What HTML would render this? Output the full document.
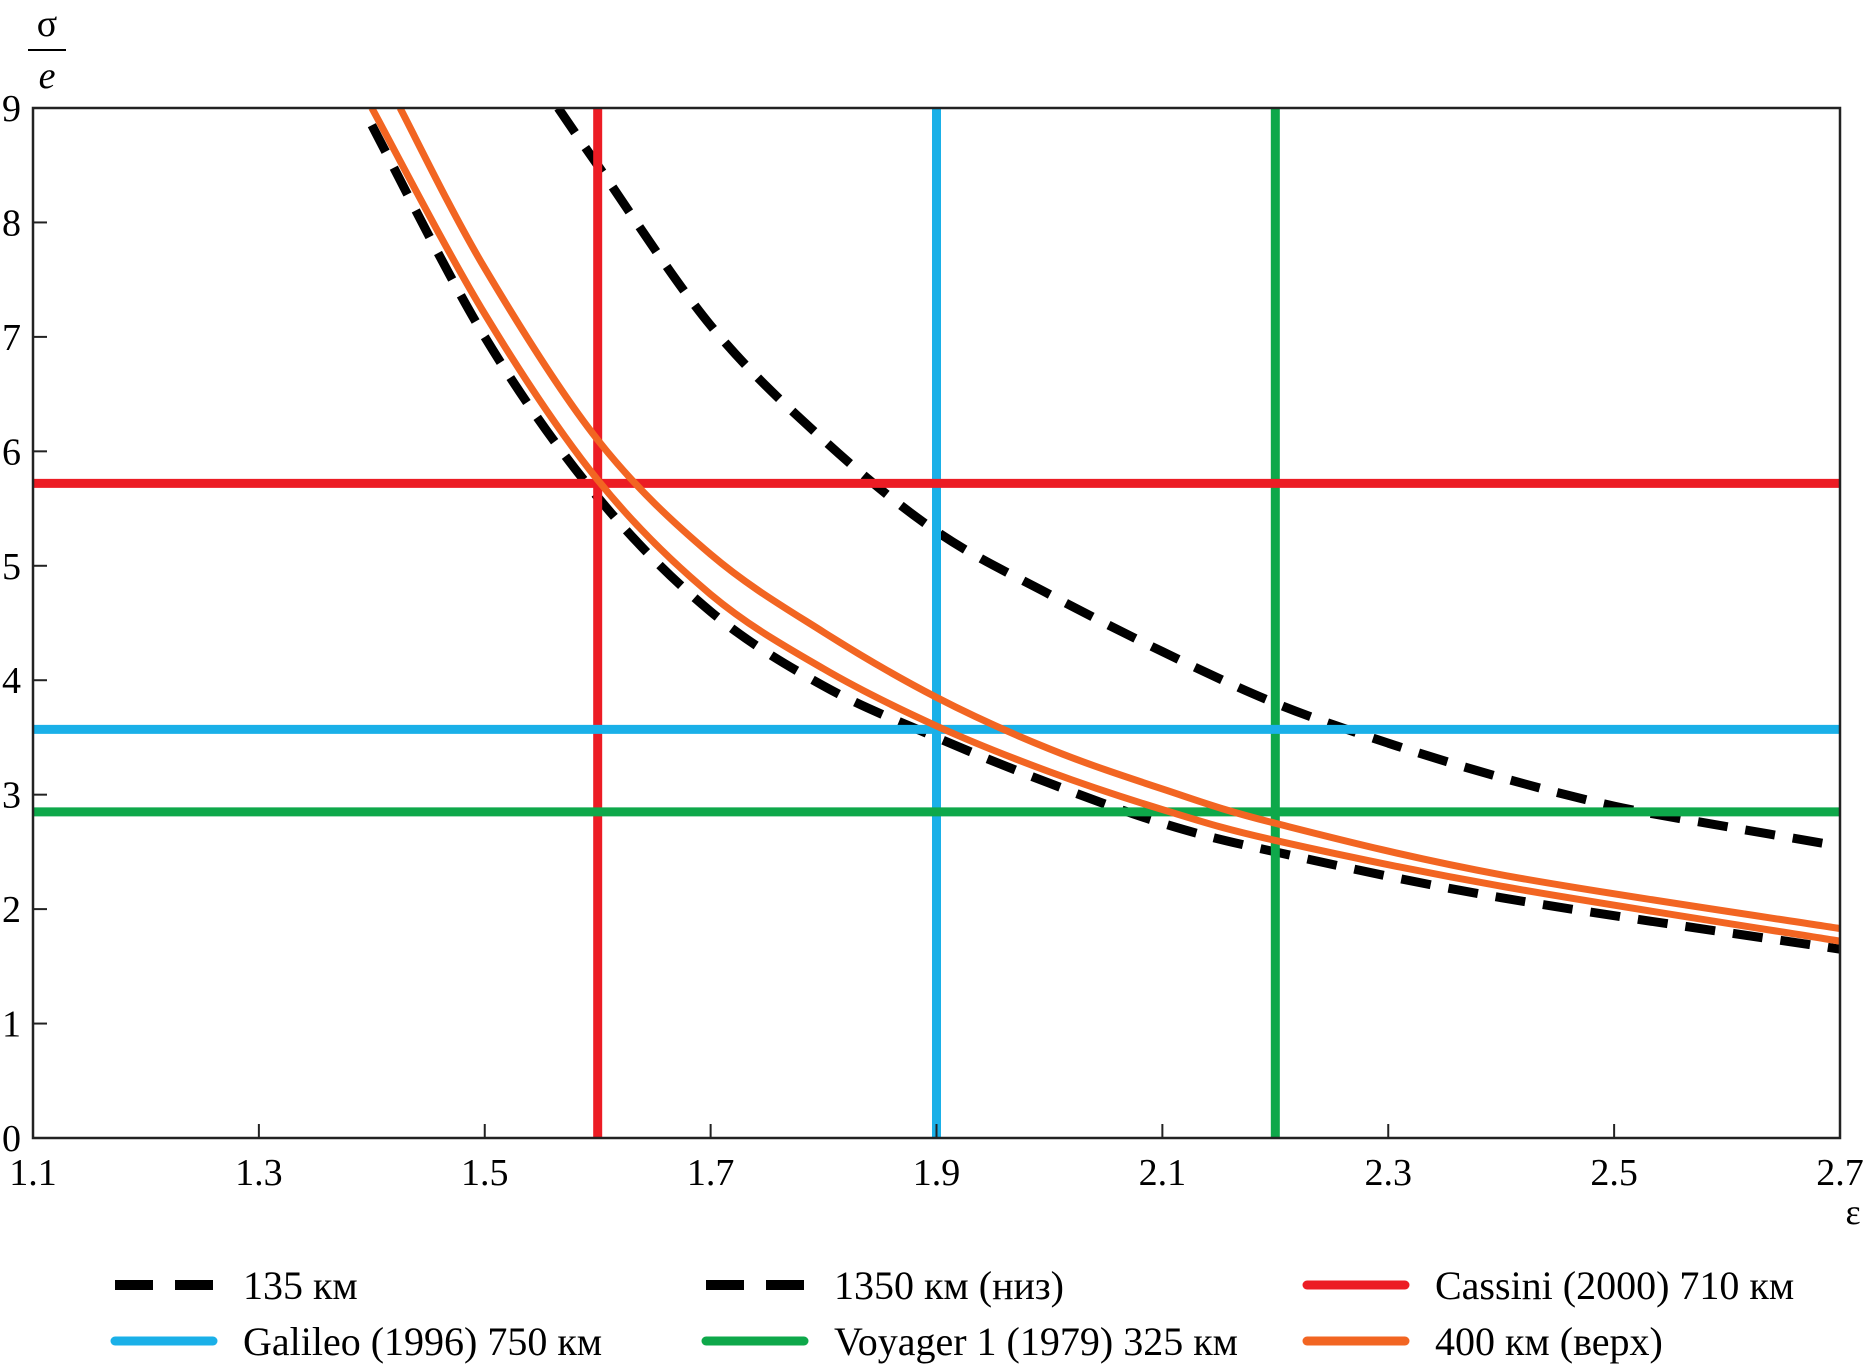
<!DOCTYPE html>
<html><head><meta charset="utf-8"><style>
body{margin:0;background:#fff}
svg{display:block;font-family:"Liberation Serif",serif}
</style></head><body>
<svg id="chart" width="1865" height="1366" viewBox="0 0 1865 1366" xmlns="http://www.w3.org/2000/svg">
<g id="plot"></g>
<g id="axes"></g>
<g>
<text x="47" y="36" font-size="38" text-anchor="middle">σ</text>
<line x1="28" y1="50" x2="66" y2="50" stroke="#000" stroke-width="2"/>
<text x="47" y="88" font-size="38" font-style="italic" text-anchor="middle">e</text>
</g>
<text x="1853" y="1224" font-size="36" text-anchor="middle">ε</text>
<g id="legend"></g>
</svg>
<script>
const xTicks=[1.1,1.3,1.5,1.7,1.9,2.1,2.3,2.5,2.7];
const yTicks=[0,1,2,3,4,5,6,7,8,9];
const dash135X=[1.40,1.5,1.6,1.7,1.8,1.9,2.0,2.1,2.2,2.4,2.7];
const dash135Y=[8.85,7.0,5.6,4.6,3.95,3.5,3.1,2.75,2.5,2.1,1.65];
const dash1350X=[1.565,1.6,1.7,1.8,1.9,2.0,2.1,2.2,2.3,2.4,2.5,2.6,2.7];
const dash1350Y=[9,8.5,7.1,6.1,5.3,4.75,4.25,3.8,3.45,3.15,2.9,2.72,2.55];
const orangeLowX=[1.40,1.5,1.6,1.7,1.8,1.9,2.0,2.1,2.2,2.4,2.7];
const orangeLowY=[9,7.2,5.75,4.75,4.1,3.6,3.2,2.87,2.6,2.2,1.72];
const orangeUpX=[1.425,1.5,1.6,1.7,1.8,1.9,2.0,2.1,2.2,2.4,2.7];
const orangeUpY=[9,7.6,6.1,5.1,4.42,3.85,3.4,3.05,2.75,2.3,1.83];
const vLines=[1.6,1.9,2.2];
const hLines=[5.72,3.57,2.85];
const lineColors=['#ec1c24','#1ab0e8','#0ea84a'];
const L=33,R=1840,T=108,B=1138;
const sx=v=>L+(v-1.1)/1.6*(R-L);
const sy=v=>B-v/9*(B-T);
const NS='http://www.w3.org/2000/svg';
function mk(tag,parent,attrs){const e=document.createElementNS(NS,tag);for(const k in attrs)e.setAttribute(k,attrs[k]);parent.appendChild(e);return e;}
const plot=document.getElementById('plot'),axes=document.getElementById('axes'),leg=document.getElementById('legend');
function pathD(xs,ys){const p=xs.map((x,i)=>[sx(x),sy(ys[i])]);let d='M'+p[0][0]+','+p[0][1];
for(let i=0;i<p.length-1;i++){const p0=p[i-1]||p[i],p1=p[i],p2=p[i+1],p3=p[i+2]||p2;
d+=' C'+(p1[0]+(p2[0]-p0[0])/6)+','+(p1[1]+(p2[1]-p0[1])/6)+' '+(p2[0]-(p3[0]-p1[0])/6)+','+(p2[1]-(p3[1]-p1[1])/6)+' '+p2[0]+','+p2[1];}return d;}
const clip=mk('clipPath',plot,{id:'cp'});mk('rect',clip,{x:L,y:T,width:R-L,height:B-T});
const g=mk('g',plot,{'clip-path':'url(#cp)'});
let e;
e=mk('path',g,{d:pathD(dash135X,dash135Y),fill:'none',stroke:'#000','stroke-width':9,'stroke-dasharray':'30 18'});


e=mk('path',g,{d:pathD(dash1350X,dash1350Y),fill:'none',stroke:'#000','stroke-width':9,'stroke-dasharray':'30 18'});


vLines.forEach((v,i)=>{e=mk('line',g,{x1:sx(v),x2:sx(v),y1:T,y2:B,stroke:lineColors[i],'stroke-width':9});

});
hLines.forEach((v,i)=>{e=mk('line',g,{x1:L,x2:R,y1:sy(v),y2:sy(v),stroke:lineColors[i],'stroke-width':9});

});
e=mk('path',g,{d:pathD(orangeLowX,orangeLowY),fill:'none',stroke:'#f26522','stroke-width':7});


e=mk('path',g,{d:pathD(orangeUpX,orangeUpY),fill:'none',stroke:'#f26522','stroke-width':7});


e=mk('rect',axes,{x:L,y:T,width:R-L,height:B-T,fill:'none',stroke:'#222','stroke-width':2.5});


xTicks.forEach(v=>{mk('line',axes,{x1:sx(v),x2:sx(v),y1:B,y2:B-14,stroke:'#222','stroke-width':2});
e=mk('text',axes,{x:sx(v),y:1185,'font-size':38,'text-anchor':'middle'});e.textContent=v.toFixed(1);

});
yTicks.forEach(v=>{mk('line',axes,{x1:L,x2:L+14,y1:sy(v),y2:sy(v),stroke:'#222','stroke-width':2});
e=mk('text',axes,{x:21,y:sy(v)+13,'font-size':38,'text-anchor':'end'});e.textContent=v;

});
const legLabels=['135 км','1350 км (низ)','Cassini (2000) 710 км','Galileo (1996) 750 км','Voyager 1 (1979) 325 км','400 км (верх)'];
const legColors=['#000','#000','#ec1c24','#1ab0e8','#0ea84a','#f26522'];
const colX=[110,701,1302],rowY=[1285,1341];
legLabels.forEach((t,i)=>{const cx=colX[i%3],cy=rowY[Math.floor(i/3)];
const gi=mk('g',leg,{});


const dashed=i<2;
mk('line',gi,{x1:cx+5,x2:cx+103,y1:cy,y2:cy,stroke:legColors[i],'stroke-width':dashed?10:9,'stroke-linecap':dashed?'butt':'round','stroke-dasharray':dashed?'38 22':'none'});
const tx=mk('text',gi,{x:cx+133,y:cy+14,'font-size':40});tx.textContent=t;});
</script>
</body></html>
